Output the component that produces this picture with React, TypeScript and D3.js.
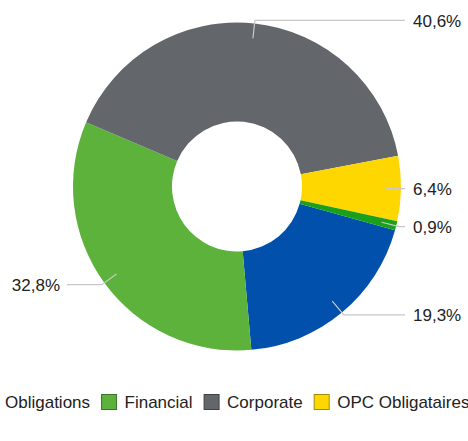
import React, { useMemo } from "react";
import * as d3 from "d3";

const categories = ["Obligations", "Financial", "Corporate", "OPC Obligataires", "Liquidités"];
const values = [19.3, 32.8, 40.6, 6.4, 0.9];
const labels = ["19,3%", "32,8%", "40,6%", "6,4%", "0,9%"];
const colors = ["#0050AC", "#5CB23A", "#63666A", "#FFD700", "#1BA01B"];
const legendItems = [0, 1, 2, 3];

const W = 468;
const H = 441;
const FONT = "'Liberation Sans', Arial, Helvetica, sans-serif";
const FS = 17;

export default function App() {
  const cx = 237;
  const cy = 186.5;
  const R = 164;
  const r0 = 65;
  const startDeg = 105.5;

  const arcs = useMemo(() => {
    const pie = d3
      .pie<number>()
      .sort(null)
      .value((d) => d)
      .startAngle((startDeg * Math.PI) / 180)
      .endAngle((startDeg * Math.PI) / 180 + 2 * Math.PI);
    return pie(values);
  }, []);

  const arcGen = d3.arc<d3.PieArcDatum<number>>().innerRadius(r0).outerRadius(R);

  const measure = useMemo(() => {
    const c = document.createElement("canvas").getContext("2d");
    return (t: string) => {
      if (!c) return t.length * FS * 0.5;
      c.font = `${FS}px ${FONT}`;
      return c.measureText(t).width;
    };
  }, []);

  // legend layout
  const markerSize = 16;
  const markerGap = 7.5;
  const itemGap = 11;
  let lx = -18.5;
  const legend = legendItems.map((i) => {
    const x = lx;
    const w = measure(categories[i]);
    lx = x + markerSize + markerGap + w + itemGap;
    return { i, x };
  });
  const legendY = 394;

  const rStart = 149;
  const rBend = 167;

  return (
    <div style={{ position: "absolute", left: 0, top: 0 }}>
      <svg width={W} height={H} style={{ display: "block", background: "#fff" }}>
        <g>
          {arcs.map((a, i) => (
            <path key={i} d={arcGen(a) || ""} fill={colors[i]} transform={`translate(${cx},${cy})`} />
          ))}
        </g>
        <g>
          {arcs.map((a, i) => {
            const mid = (a.startAngle + a.endAngle) / 2;
            const sx = cx + rStart * Math.sin(mid);
            const sy = cy - rStart * Math.cos(mid);
            const bx = cx + rBend * Math.sin(mid);
            const by = cy - rBend * Math.cos(mid);
            const right = Math.sin(mid) >= 0;
            const ex = right ? 405 : 67;
            const tx = right ? 413 : 60;
            return (
              <g key={i}>
                <polyline
                  points={`${sx},${sy} ${bx},${by} ${ex},${by}`}
                  fill="none"
                  stroke="#c8c8c8"
                  strokeWidth={1.2}
                />
                <text
                  x={tx}
                  y={by}
                  dy="0.36em"
                  textAnchor={right ? "start" : "end"}
                  fontFamily={FONT}
                  fontSize={FS}
                  fill="#222"
                >
                  {labels[i]}
                </text>
              </g>
            );
          })}
        </g>
        <g>
          {legend.map(({ i, x }) => (
            <g key={i}>
              <rect
                x={x + 0.5}
                y={legendY + 0.5}
                width={markerSize - 1}
                height={markerSize - 1}
                fill={colors[i]}
                stroke={d3.color(colors[i])!.darker(1.2).formatHex()}
                strokeWidth={1}
              />
              <text
                x={x + markerSize + markerGap}
                y={legendY + markerSize / 2}
                dy="0.36em"
                fontFamily={FONT}
                fontSize={FS}
                fill="#222"
              >
                {categories[i]}
              </text>
            </g>
          ))}
        </g>
      </svg>
    </div>
  );
}
